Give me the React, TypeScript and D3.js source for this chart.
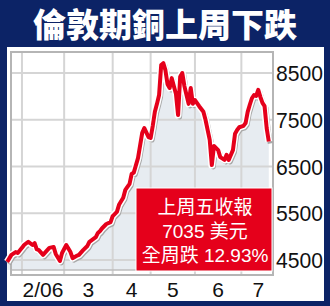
import React from "react";
import * as d3 from "d3";

// ---- data (LME copper, US$/tonne, by trading-day index) ----
const dayIndex = [0, 2, 4, 5, 7, 8, 10, 12, 13, 14, 15, 17, 19, 20, 22, 23, 25, 26, 28, 30, 31, 33, 34, 36, 38, 39, 42, 43, 44, 45, 47, 49, 50, 52, 53, 55, 56, 58, 59, 60, 62, 64, 65, 67, 68, 69, 70, 71, 72, 73, 74, 75, 76, 77, 78, 80, 81, 82, 83, 84, 85, 86, 87, 88, 89, 91, 93, 94, 96, 97, 98, 100, 101, 103, 104, 105, 107, 108, 109, 110, 112, 113, 114, 115, 116, 117, 118, 119, 120, 121, 122, 123, 124];
const copperPrice = [4460, 4610, 4670, 4650, 4760, 4820, 4890, 4820, 4860, 4730, 4710, 4610, 4710, 4760, 4780, 4630, 4480, 4650, 4820, 4670, 4540, 4590, 4610, 4710, 4800, 4890, 4990, 5080, 5120, 5180, 5270, 5310, 5440, 5530, 5680, 5830, 6000, 6130, 6340, 6370, 6680, 7220, 7320, 7130, 7110, 7370, 7670, 7840, 8030, 8670, 8710, 8560, 8260, 8180, 8390, 8050, 7600, 8420, 8500, 8220, 8030, 7840, 8180, 7840, 7920, 7790, 7670, 7500, 7070, 6530, 6940, 6850, 6700, 6640, 6750, 6640, 6850, 7200, 7280, 7340, 7370, 7430, 7670, 7820, 7960, 8030, 8010, 8140, 7990, 7860, 7790, 7320, 7035];

const monthLabels = ["2/06", "3", "4", "5", "6", "7"];
const monthBounds = [7, 27, 50, 68, 89, 111, 127];
const yTicks = [4500, 5500, 6500, 7500, 8500];
const titleText = "倫敦期銅上周下跌";
const calloutLines = ["上周五收報", "7035 美元", "全周跌 12.93%"];

const NAVY = "#0c2366";
const RED = "#e5001b";

export default function App() {
  const W = 330, H = 306;
  const frame = { l: 11, t: 52, r: 273, b: 275 };
  const x = d3.scaleLinear().domain([0, 126]).range([7.2, 273]);
  const y = d3.scaleLinear().domain([4500, 8500]).range([260, 73]);
  const pts: [number, number][] = dayIndex.map((d, i) => [d, copperPrice[i]]);
  const line = d3.line<[number, number]>().x(d => x(d[0])).y(d => y(d[1]));
  const area = d3.area<[number, number]>().x(d => x(d[0])).y0(270).y1(d => y(d[1]));
  const lp = line(pts) || "";
  const ap = area(pts) || "";
  const font = "'Liberation Sans', Arial, sans-serif";
  const cjk = "'Noto Sans CJK TC', 'Noto Sans CJK SC', sans-serif";

  return (
    <svg width={W} height={H} style={{ position: "fixed", left: 0, top: 0 }}>
      <rect x={0} y={0} width={W} height={H} fill={NAVY} />
      <text x={165} y={37} textAnchor="middle" fill="#fff" fontFamily={cjk} fontWeight={900} fontSize={33}>{titleText}</text>
      <rect x={7} y={47} width={317} height={254} fill="#fff" />
      {/* area fill */}
      <path d={ap} fill="#e7ecf1" />
      {/* gridlines */}
      {yTicks.map(t => (
        <line key={"h" + t} x1={frame.l} x2={frame.r} y1={y(t)} y2={y(t)} stroke="#d5d5d5" strokeWidth={2} />
      ))}
      {monthBounds.slice(0, 6).map(m => (
        <line key={"v" + m} x1={x(m)} x2={x(m)} y1={frame.t} y2={frame.b} stroke="#d5d5d5" strokeWidth={2} />
      ))}
      <line x1={frame.l} x2={frame.r} y1={270} y2={270} stroke="#bdbdbd" strokeWidth={1.5} />
      <rect x={frame.l} y={frame.t} width={frame.r - frame.l} height={frame.b - frame.t} fill="none" stroke="#b5b5b5" strokeWidth={2} />
      {/* line with halo and shadow */}
      <path d={lp} fill="none" stroke="#a8a8a8" strokeWidth={5} strokeLinejoin="round" transform="translate(1.5,2)" />
      <path d={lp} fill="none" stroke="#fff" strokeWidth={7} strokeLinejoin="round" />
      <path d={lp} fill="none" stroke={RED} strokeWidth={4} strokeLinejoin="round" />
      {/* callout */}
      <rect x={136} y={188} width={136} height={83} fill={RED} stroke="#fff" strokeWidth={1} />
      {calloutLines.map((s, i) => (
        <text key={i} x={205} y={214 + i * 24} textAnchor="middle" fill="#fff" fontSize={19} fontFamily={`${font}, ${cjk}`}>{s}</text>
      ))}
      {/* y labels */}
      {yTicks.map(t => (
        <text key={"yl" + t} x={276} y={y(t) + 8} fill="#111" fontSize={22} fontFamily={font} textLength={47} lengthAdjust="spacingAndGlyphs">{t}</text>
      ))}
      {/* x labels */}
      {monthLabels.map((m, i) => (
        <text key={"xl" + i} x={x((monthBounds[i] + monthBounds[i + 1]) / 2)} y={297} textAnchor="middle" fill="#111" fontSize={21} fontFamily={font}>{m}</text>
      ))}
    </svg>
  );
}
